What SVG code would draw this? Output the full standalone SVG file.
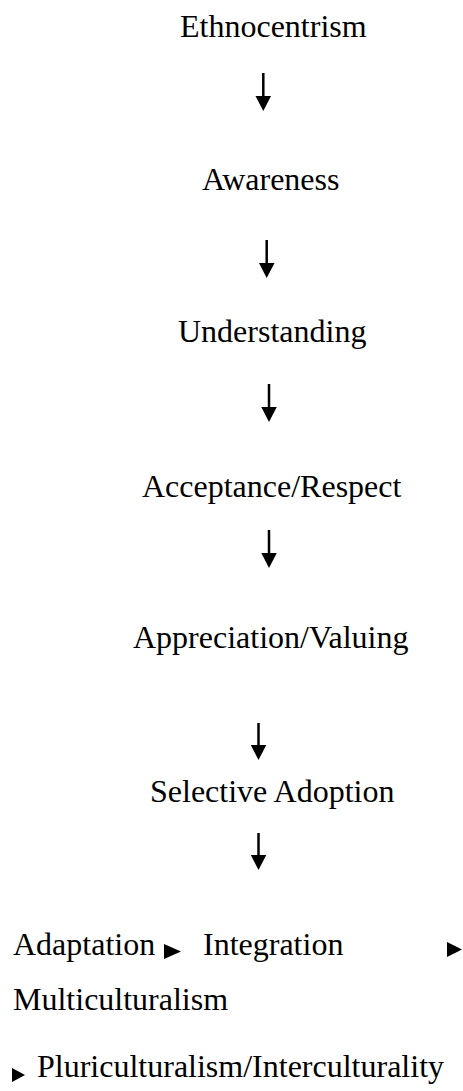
<svg xmlns="http://www.w3.org/2000/svg" width="463" height="1091" viewBox="0 0 463 1091">
<style>
text{font-family:"Liberation Serif","Times New Roman",serif;font-size:32px;fill:#000}
.shaft{stroke:#000;stroke-width:2.5}
.head{fill:#000}
</style>
<rect width="463" height="1091" fill="#fff"/>
<g id="n-ethnocentrism"><text x="180" y="37">Ethnocentrism</text></g>
<g id="n-awareness"><text x="202" y="190">Awareness</text></g>
<g id="n-understanding"><text x="178" y="342">Understanding</text></g>
<g id="n-acceptance"><text x="142" y="497">Acceptance/Respect</text></g>
<g id="n-appreciation"><text x="133" y="648">Appreciation/Valuing</text></g>
<g id="n-selective"><text x="150" y="802">Selective Adoption</text></g>
<g id="n-adaptation"><text x="13" y="955">Adaptation</text></g>
<g id="n-integration"><text x="203" y="955">Integration</text></g>
<g id="n-multiculturalism"><text x="13" y="1010">Multiculturalism</text></g>
<g id="n-pluriculturalism"><text x="37" y="1077">Pluriculturalism/Interculturality</text></g>
<g id="connectors">
<line class="shaft" x1="263.3" y1="73" x2="263.3" y2="100"/>
<polygon class="head" points="255.5,96 271,96 263.3,111"/>
<line class="shaft" x1="266.7" y1="240" x2="266.7" y2="267"/>
<polygon class="head" points="259,263 274.5,263 266.7,278"/>
<line class="shaft" x1="269" y1="384" x2="269" y2="411"/>
<polygon class="head" points="261.3,407 276.8,407 269,422"/>
<line class="shaft" x1="269" y1="530" x2="269" y2="557"/>
<polygon class="head" points="261.3,553 276.8,553 269,568"/>
<line class="shaft" x1="258.5" y1="723" x2="258.5" y2="750"/>
<polygon class="head" points="250.8,745 266.3,745 258.5,760"/>
<line class="shaft" x1="258.5" y1="833" x2="258.5" y2="860"/>
<polygon class="head" points="250.8,855 266.3,855 258.5,870"/>
<polygon class="head" points="164,944 181,951.5 164,959"/>
<polygon class="head" points="447,942 462,949.5 447,957"/>
<polygon class="head" points="12,1068 25,1075 12,1082"/>
</g>
</svg>
